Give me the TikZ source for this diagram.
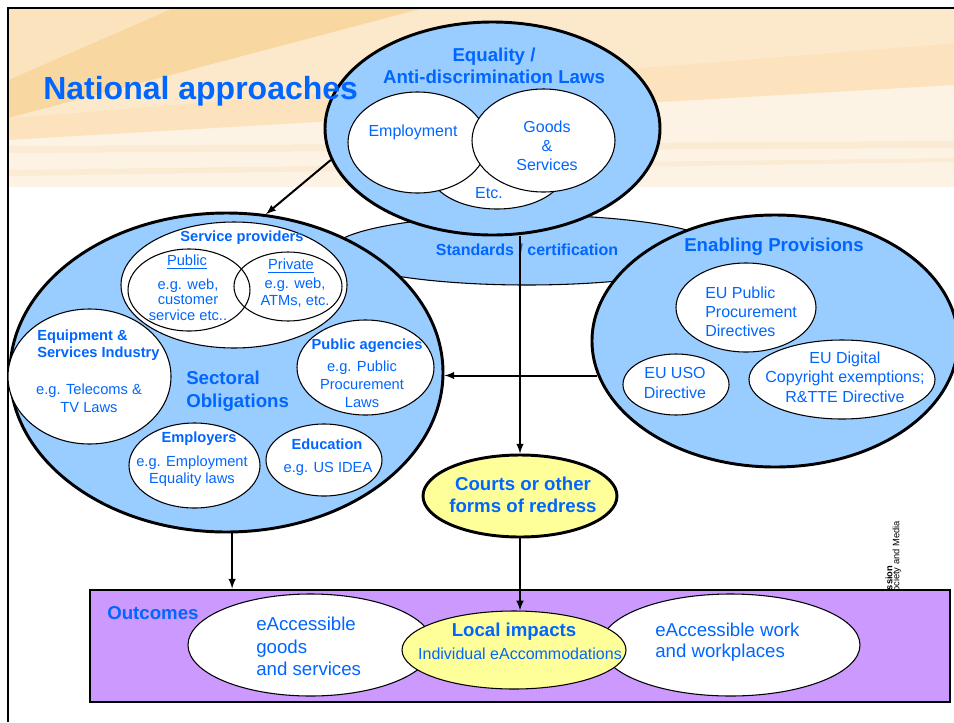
\documentclass[tikz,border=0pt]{standalone}
\usepackage{fontspec}
\setmainfont{Liberation Sans}
\usepackage{tikz}
\usetikzlibrary{shapes,arrows}
\definecolor{ablue}{RGB}{0,102,255}
\definecolor{lblue}{RGB}{153,204,255}
\definecolor{lyell}{RGB}{255,255,153}
\definecolor{lpurp}{RGB}{204,153,255}
\definecolor{hdr0}{HTML}{FDF3E4}
\definecolor{hdr1}{HTML}{FCE9CC}
\definecolor{hdr2}{HTML}{FCE3BE}
\definecolor{hdr3}{HTML}{F9D7A0}
\definecolor{hdr4}{HTML}{FBE4BD}
\definecolor{hdr5}{HTML}{FCEBD4}

\begin{document}
\begin{tikzpicture}[x=0.75pt,y=-0.75pt,
  blob/.style 2 args={ellipse,inner sep=0pt,minimum width=#1*1.5pt,minimum height=#2*1.5pt},
  big/.style={draw,line width=2.2pt,fill=lblue},
  thin/.style={draw,line width=0.8pt,fill=white},
  txt/.style={text=ablue,align=center,inner sep=0pt},
  s11/.style={txt,font=\fontsize{11}{13.5}\selectfont},
  s12/.style={txt,font=\fontsize{12}{14.5}\selectfont},
  s14/.style={txt,font=\fontsize{14}{17}\selectfont},
  b11/.style={txt,font=\bfseries\fontsize{11}{12.75}\selectfont},
  b12/.style={txt,font=\bfseries\fontsize{12}{14.5}\selectfont},
  b14/.style={txt,font=\bfseries\fontsize{14}{16.5}\selectfont},
  arr/.style={->,>=latex,line width=1.5pt}]
\useasboundingbox (0,0) rectangle (954,722);
\fill[white] (0,0) rectangle (954,722);
% header band
\fill[hdr0] (8,9) rectangle (954,187);
\fill[hdr1] (8,9) -- (954,9) -- (954,43) -- (8,118) -- cycle;
\fill[hdr2] (954,43) -- (954,85) -- (8,140) -- (8,118) -- cycle;
\fill[hdr3] (8,80) -- (171,9) -- (420,9) -- (8,118) -- cycle;
\fill[hdr4] (8,9) -- (171,9) -- (8,80) -- cycle;
\fill[hdr5] (8,146) -- (954,141) -- (954,148) -- (8,153) -- cycle;
\fill[hdr5] (8,170) -- (954,158) -- (954,162) -- (8,176) -- cycle;
\draw[line width=1.5pt] (954,8) -- (8,8) -- (8,722);

% laws
\node[blob={195}{35},draw,line width=0.8pt,fill=lblue] (std) at (527,250) {};
\node[b12] (stdT) at (527,250) {Standards / certification};
\node[blob={167.5}{106.5},big] (equal) at (492.5,128.5) {};
\node[blob={68}{39},thin] (etc) at (497,170) {};
\node[blob={69.5}{50.5},thin] (empl) at (417.5,142.5) {};
\node[blob={71.5}{51.5},thin] (goods) at (543.5,140.5) {};
\node[b14] (equalT) at (494,66) {Equality /\\Anti-discrimination Laws};
\node[s12] (emplT) at (413,132) {Employment};
\node[s12,font=\fontsize{12}{14.25}\selectfont] (goodsT) at (547,146) {Goods\\\&\\Services};
\node[s12] (etcT) at (489,193) {Etc.};
\node[txt,anchor=west,font=\bfseries\fontsize{24}{28}\selectfont] (natT) at (43,91) {National approaches};

% sectoral
\node[blob={216.5}{159.5},big] (sect) at (226.5,372.5) {};
\node[blob={113}{63},thin] (sp) at (234,285) {};
\node[blob={61}{41},draw,line width=0.8pt] (pub) at (189,290) {};
\node[blob={54}{34.5},draw,line width=0.8pt] (priv) at (288,286.5) {};
\node[blob={81.5}{67.5},thin] (equip) at (89.5,376.5) {};
\node[blob={68.5}{47.5},thin] (pubag) at (365.5,367.5) {};
\node[blob={65.5}{42.5},thin] (emplr) at (194.5,465.5) {};
\node[blob={58}{36},thin] (edu) at (324,460) {};
\node[b11] (spT) at (242,238) {Service providers};
\node[s11] (pubA) at (187,262) {\underline{Public}};
\node[s11,font=\fontsize{11}{11.6}\selectfont] (pubB) at (188,299.5) {e.g. web,\\customer\\service etc..};
\node[s11] (privA) at (291,266) {\underline{Private}};
\node[s11,font=\fontsize{11}{12.75}\selectfont] (privB) at (295,292.5) {e.g. web,\\ATMs, etc.};
\node[b11,align=left,anchor=west] (equipA) at (37,345.5) {Equipment \&\\Services Industry};
\node[s11] (equipB) at (89,398) {e.g. Telecoms \&\\TV Laws};
\node[b14,align=left,anchor=west,font=\bfseries\fontsize{14}{17.25}\selectfont] (sectT) at (186,391.5) {Sectoral\\Obligations};
\node[b11] (pubagA) at (367,346) {Public agencies};
\node[s11] (pubagB) at (362,384) {e.g. Public\\Procurement\\Laws};
\node[b11] (emplrA) at (199,439) {Employers};
\node[s11,font=\fontsize{11}{12.75}\selectfont] (emplrB) at (192,471.5) {e.g. Employment\\Equality laws};
\node[b11] (eduA) at (327,444) {Education};
\node[s11] (eduB) at (328,469) {e.g. US IDEA};

% enabling
\node[blob={183}{126},big] (enab) at (775,341) {};
\node[blob={70}{44.5},thin] (eup) at (746,307.5) {};
\node[blob={53}{30.5},thin] (uso) at (676,384.5) {};
\node[blob={93}{39.5},thin] (dig) at (842,379.5) {};
\node[b14] (enabT) at (774,247) {Enabling Provisions};
\node[s12,align=left,anchor=west,font=\fontsize{12}{14.25}\selectfont] (eupT) at (705,312) {EU Public\\Procurement\\Directives};
\node[s12,font=\fontsize{12}{15}\selectfont] (usoT) at (675,383) {EU USO\\Directive};
\node[s12,font=\fontsize{12}{14.6}\selectfont] (digT) at (845,377) {EU Digital\\Copyright exemptions;\\R\&TTE Directive};

% redress
\node[blob={97}{41},draw,line width=2.2pt,fill=lyell] (courts) at (520,496) {};
\node[b14] (courtsT) at (523,495) {Courts or other\\forms of redress};

% logo remains
\node[txt,text=black,rotate=90,anchor=west,font=\bfseries\fontsize{7}{8}\selectfont] (logoA) at (889,593) {ission};
\node[txt,text=black,rotate=90,anchor=west,font=\fontsize{7}{8}\selectfont] (logoB) at (897,592) {ociety and Media};

% outcomes
\node[draw,line width=2.2pt,fill=lpurp,inner sep=0pt,minimum width=645pt,minimum height=84pt] (outc) at (520,646) {};
\node[b14,anchor=west] (outT) at (107,613) {Outcomes};
\node[blob={122.5}{51},thin] (eago) at (310.5,645) {};
\node[blob={129.5}{51},thin] (eawo) at (730.5,645) {};
\node[blob={112}{39},draw,line width=0.8pt,fill=lyell] (local) at (514,650) {};
\node[s14,align=left,anchor=west] (eagoT) at (256,646.5) {eAccessible\\goods\\and services};
\node[s14,align=left,anchor=west,font=\fontsize{14}{15.75}\selectfont] (eawoT) at (655,642.5) {eAccessible work\\and workplaces};
\node[b14] (localA) at (514,632) {Local impacts};
\node[s12] (localB) at (520,654) {Individual eAccommodations};

% connectors
\draw[arr] (equal.191) -- (sect.76);
\draw[arr] (courts.north |- equal.south) -- (courts.north);
\draw[arr] (enab.191) -- (enab.191 -| sect.east);
\draw[arr] (sect.-88) -- (sect.-88 |- outc.north);
\draw[arr] (courts.south) -- (courts.south |- local.north);
\end{tikzpicture}
\end{document}
